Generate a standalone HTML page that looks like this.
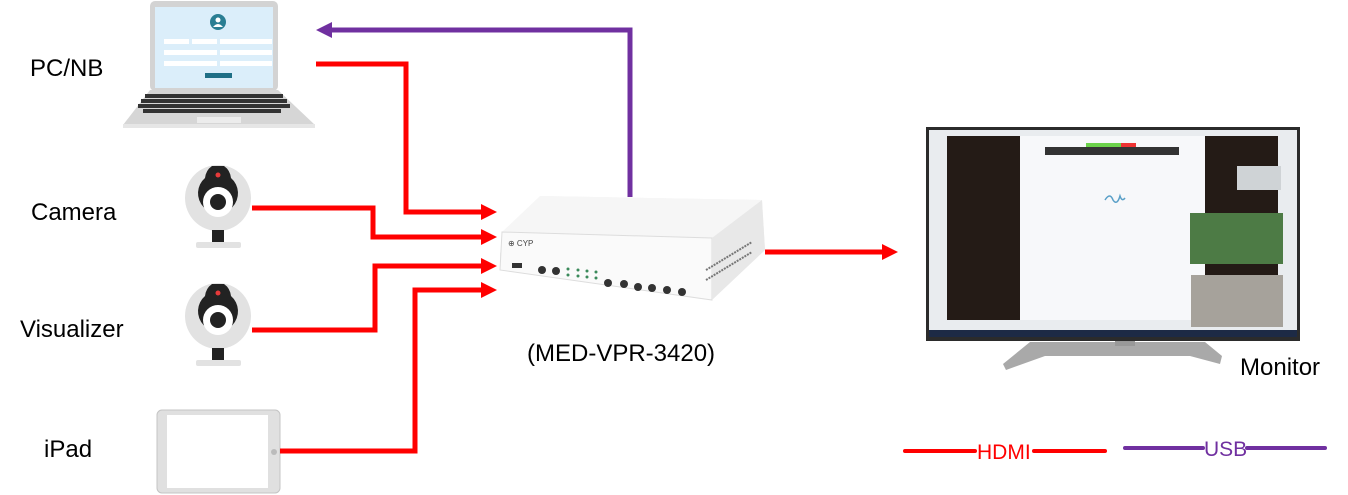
<!DOCTYPE html>
<html><head><meta charset="utf-8"><style>
html,body{margin:0;padding:0;background:#fff;}
svg{display:block;}
text{font-family:"Liberation Sans",sans-serif;}
</style></head><body>
<svg width="1348" height="495" viewBox="0 0 1348 495" xmlns="http://www.w3.org/2000/svg">
<!-- laptop -->
<rect x="150" y="1" width="128" height="90" rx="5" fill="#d3d3d3"/>
<rect x="155" y="7" width="118" height="81" fill="#dbeefa"/>
<circle cx="218" cy="22" r="8" fill="#2a7e93"/>
<circle cx="218" cy="20" r="2.5" fill="#fff"/><path d="M213 27 q5 -6 10 0z" fill="#fff"/>
<rect x="164" y="39" width="25" height="5" fill="#fff"/><rect x="192" y="39" width="25" height="5" fill="#fff"/><rect x="220" y="39" width="52" height="5" fill="#fff"/>
<rect x="164" y="50" width="53" height="5" fill="#fff"/><rect x="220" y="50" width="52" height="5" fill="#fff"/>
<rect x="164" y="61" width="53" height="5" fill="#fff"/><rect x="220" y="61" width="52" height="5" fill="#fff"/>
<rect x="205" y="73" width="27" height="5" fill="#1f6f86"/>
<path d="M150 90 L278 90 L315 125 L123 125 Z" fill="#d6d6d6"/>
<rect x="123" y="124" width="192" height="4" fill="#e6e6e6"/>
<g fill="#333"><rect x="145" y="94" width="138" height="4"/><rect x="141" y="99" width="146" height="4"/><rect x="138" y="104" width="152" height="4"/><rect x="143" y="109" width="138" height="4"/></g>
<rect x="197" y="117" width="44" height="6" fill="#ececec"/>

<!-- cameras -->
<g id="cam">
<circle cx="218" cy="198" r="33" fill="#e2e2e2"/>
<path d="M212 166 h12 q6 4 7 12 a20 20 0 1 1 -26 0 q1 -8 7 -12 z" fill="#222"/>
<circle cx="218" cy="202" r="15" fill="#fff"/>
<circle cx="218" cy="202" r="8" fill="#222"/>
<circle cx="218" cy="175" r="2.5" fill="#e63a3a"/>
<rect x="212" y="230" width="12" height="12" fill="#222"/>
<rect x="196" y="242" width="45" height="6" rx="2" fill="#e2e2e2"/>
</g>
<use href="#cam" transform="translate(0,118)"/>

<!-- ipad -->
<rect x="157" y="410" width="123" height="83" rx="5" fill="#e0e0e0" stroke="#c4c4c4"/>
<rect x="167" y="415" width="101" height="73" fill="#fff"/>
<circle cx="274" cy="452" r="3" fill="#bbb"/>

<!-- device -->
<path d="M500 253 L540 196 L762 200 L765 250 L712 300 L500 270 Z" fill="#f1f1f1"/>
<path d="M540 196 L762 200 L712 238 L502 232 Z" fill="#f6f6f6"/>
<path d="M502 232 L712 238 L712 300 L500 270 Z" fill="#fafafa" stroke="#ddd"/>
<path d="M712 238 L762 200 L765 250 L712 300 Z" fill="#e8e8e8"/>
<g stroke="#777" stroke-width="2" stroke-dasharray="2 1"><line x1="706" y1="270" x2="752" y2="242"/><line x1="706" y1="280" x2="752" y2="252"/></g>
<text x="508" y="246" font-size="8" fill="#444">⊕ CYP</text>
<rect x="512" y="263" width="10" height="5" fill="#333"/>
<g fill="#333"><circle cx="542" cy="270" r="4"/><circle cx="556" cy="271" r="4"/><circle cx="608" cy="283" r="4"/><circle cx="624" cy="284" r="4"/><circle cx="638" cy="287" r="4"/><circle cx="652" cy="288" r="4"/><circle cx="667" cy="290" r="4"/><circle cx="682" cy="292" r="4"/></g>
<g fill="#3a8a5a"><circle cx="568" cy="269" r="1.5"/><circle cx="568" cy="275" r="1.5"/><circle cx="578" cy="270" r="1.5"/><circle cx="578" cy="276" r="1.5"/><circle cx="587" cy="271" r="1.5"/><circle cx="587" cy="277" r="1.5"/><circle cx="596" cy="272" r="1.5"/><circle cx="596" cy="278" r="1.5"/></g>

<!-- monitor -->
<path d="M1030 342 L1205 342 L1222 356 L1220 364 L1190 356 L1045 356 L1006 370 L1003 364 Z" fill="#a9a9a9"/>
<rect x="1115" y="338" width="20" height="8" fill="#999"/>
<rect x="926" y="127" width="374" height="214" fill="#2b2b2b"/>
<rect x="929" y="130" width="368" height="207" fill="#e9ecef"/>
<rect x="947" y="136" width="73" height="184" fill="#241b16"/>
<rect x="1020" y="136" width="185" height="184" fill="#f7f8fa"/>
<rect x="1205" y="136" width="73" height="140" fill="#241b16"/>
<rect x="1045" y="147" width="134" height="8" fill="#333"/>
<rect x="1086" y="143" width="35" height="4" fill="#6bd24a"/><rect x="1121" y="143" width="15" height="4" fill="#e33"/>
<rect x="1237" y="166" width="44" height="24" fill="#cfd3d6"/>
<rect x="1190" y="213" width="93" height="51" fill="#4d7b45"/>
<rect x="1191" y="275" width="92" height="52" fill="#a6a29b"/>
<rect x="929" y="330" width="368" height="7" fill="#1d2a45"/>
<path d="M1105 200 q5 -8 8 0 q4 6 7 -4 q2 6 5 2" stroke="#5aa0c8" fill="none" stroke-width="1.5"/>

<!-- labels -->
<g font-size="24" fill="#000">
<text x="30" y="76">PC/NB</text>
<text x="31" y="220">Camera</text>
<text x="20" y="337">Visualizer</text>
<text x="44" y="457">iPad</text>
<text x="527" y="361">(MED-VPR-3420)</text>
<text x="1240" y="375">Monitor</text>
</g>

<!-- connectors -->
<g fill="none" stroke="#ff0000" stroke-width="5">
<polyline points="316,64 406,64 406,212 483,212"/>
<polyline points="252,208 373,208 373,237 483,237"/>
<polyline points="252,330 375,330 375,266 483,266"/>
<polyline points="280,451 415,451 415,290 483,290"/>
<line x1="765" y1="252" x2="884" y2="252"/>
</g>
<g fill="#ff0000">
<polygon points="481,204 497,212 481,220"/>
<polygon points="481,229 497,237 481,245"/>
<polygon points="481,258 497,266 481,274"/>
<polygon points="481,282 497,290 481,298"/>
<polygon points="882,244 898,252 882,260"/>
</g>
<polyline points="630,197 630,30 330,30" fill="none" stroke="#7030a0" stroke-width="5"/>
<polygon points="332,22 316,30 332,38" fill="#7030a0"/>

<!-- legend -->
<line x1="905" y1="451" x2="975" y2="451" stroke="#ff0000" stroke-width="4" stroke-linecap="round"/>
<line x1="1034" y1="451" x2="1105" y2="451" stroke="#ff0000" stroke-width="4" stroke-linecap="round"/>
<text x="977" y="459" font-size="21" fill="#ff0000">HDMI</text>
<line x1="1125" y1="448" x2="1203" y2="448" stroke="#7030a0" stroke-width="4" stroke-linecap="round"/>
<line x1="1247" y1="448" x2="1325" y2="448" stroke="#7030a0" stroke-width="4" stroke-linecap="round"/>
<text x="1204" y="456" font-size="21" fill="#7030a0">USB</text>
</svg>
</body></html>
